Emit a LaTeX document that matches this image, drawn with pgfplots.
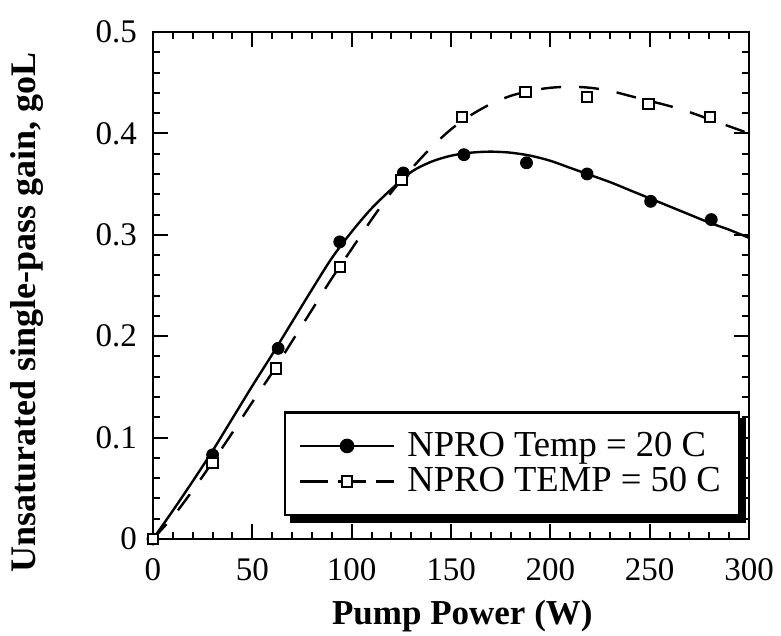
\documentclass[border=0pt]{standalone}
\usepackage{fontspec}
\setmainfont{Liberation Serif}
\usepackage{pgfplots}
\pgfplotsset{compat=1.18}
\usetikzlibrary{calc}

\begin{document}
\begin{tikzpicture}
\begin{axis}[
  name=ax,
  scale only axis,
  width=298pt, height=253.5pt,
  xmin=0, xmax=300, ymin=0, ymax=0.5,
  xtick={0,50,...,300},
  ytick={0,0.1,0.2,0.3,0.4,0.5},
  yticklabels={0,0.1,0.2,0.3,0.4,0.5},
  minor x tick num=4, minor y tick num=4,
  axis line style={line width=1.4pt},
  major tick length=7.5pt, minor tick length=3.5pt,
  every tick/.style={line width=1pt, black},
  /pgf/number format/assume math mode=true,
  tick label style={font=\fontsize{16.5}{18}\selectfont},
  xticklabel style={yshift=-6pt},
  yticklabel style={xshift=-4.5pt},
  xlabel={\bfseries Pump Power (W)},
  ylabel={\bfseries Unsaturated single-pass gain, goL},
  xlabel style={font=\fontsize{17.5}{20}\selectfont, at={(axis description cs:0.519,-0.152)}, anchor=center},
  ylabel style={font=\fontsize{18}{20}\selectfont, at={(axis description cs:-0.211,0.446)}, anchor=center},
  legend cell align=left,
  legend image code/.code={
    \draw[line width=1.3pt, mark repeat=2,mark phase=2] plot coordinates {(0pt,0pt) (23.5pt,0pt) (47pt,0pt)};
  },
  legend style={name=leg, at={(0.985,0.045)}, anchor=south east, draw=black, line width=1.2pt,
    fill=white, inner xsep=7pt, inner ysep=8pt, row sep=0pt, column sep=4pt,
    font=\fontsize{18.3}{20}\selectfont},
]
% fitted curves
\addplot[black, line width=1.2pt, smooth, forget plot] coordinates {
 (0,0) (10,0.028) (20,0.057) (30,0.087) (40,0.119) (50,0.151) (60,0.182) (70,0.214)
 (80,0.246) (90,0.277) (100,0.303) (110,0.326) (120,0.345) (130,0.362) (140,0.372)
 (150,0.378) (160,0.381) (170,0.382) (180,0.381) (190,0.378) (200,0.373) (210,0.366)
 (220,0.359) (230,0.352) (240,0.344) (250,0.336) (260,0.328) (270,0.320) (280,0.312)
 (290,0.305) (300,0.297)};
\addplot[black, line width=1.2pt, smooth, dash pattern=on 10pt off 9pt, forget plot] coordinates {
 (0,0) (10,0.022) (20,0.048) (30,0.076) (40,0.105) (50,0.135) (60,0.164) (70,0.195)
 (80,0.226) (90,0.257) (100,0.286) (110,0.315) (120,0.342) (130,0.365) (140,0.386)
 (150,0.404) (160,0.418) (170,0.429) (180,0.437) (190,0.442) (200,0.445) (210,0.446)
 (220,0.445) (230,0.442) (240,0.437) (250,0.432) (260,0.427) (270,0.421) (280,0.414)
 (290,0.407) (300,0.400)};
% measured points
\addplot[only marks, mark=*, mark size=3pt, black, forget plot] coordinates {
 (0,0) (30,0.083) (63,0.188) (94,0.293) (126,0.361) (156.5,0.379) (188,0.371)
 (218.5,0.360) (250.5,0.333) (281,0.315)};
\addplot[only marks, mark=square*, mark size=2.6pt, black, line width=1pt,
  mark options={fill=white}, forget plot] coordinates {
 (0,0) (30,0.075) (62,0.168) (94,0.268) (125,0.354) (155.5,0.416) (187.5,0.441)
 (218.5,0.436) (249.5,0.429) (280.5,0.416)};
% legend
\addlegendimage{black, line width=1.3pt, mark=*, mark size=3pt}
\addlegendentry{NPRO Temp = 20 C}
\addlegendimage{black, line width=1.3pt, dash pattern=on 14pt off 5pt, mark=square*, mark size=2.6pt,
  mark options={fill=white, solid, line width=1pt}}
\addlegendentry{NPRO TEMP = 50 C}
\end{axis}
% legend shadow (visible L-shaped part only)
\fill[black] ($(leg.south west)+(3pt,-3.5pt)$) rectangle ($(leg.south east)+(3pt,0pt)$);
\fill[black] ($(leg.north east)+(0pt,-3.5pt)$) rectangle ($(leg.south east)+(3pt,0pt)$);
\pgfresetboundingbox
\path[use as bounding box] ($(ax.south west)+(-76.5pt,-48.5pt)$) rectangle ($(ax.north east)+(16pt,16pt)$);
\end{tikzpicture}
\end{document}
